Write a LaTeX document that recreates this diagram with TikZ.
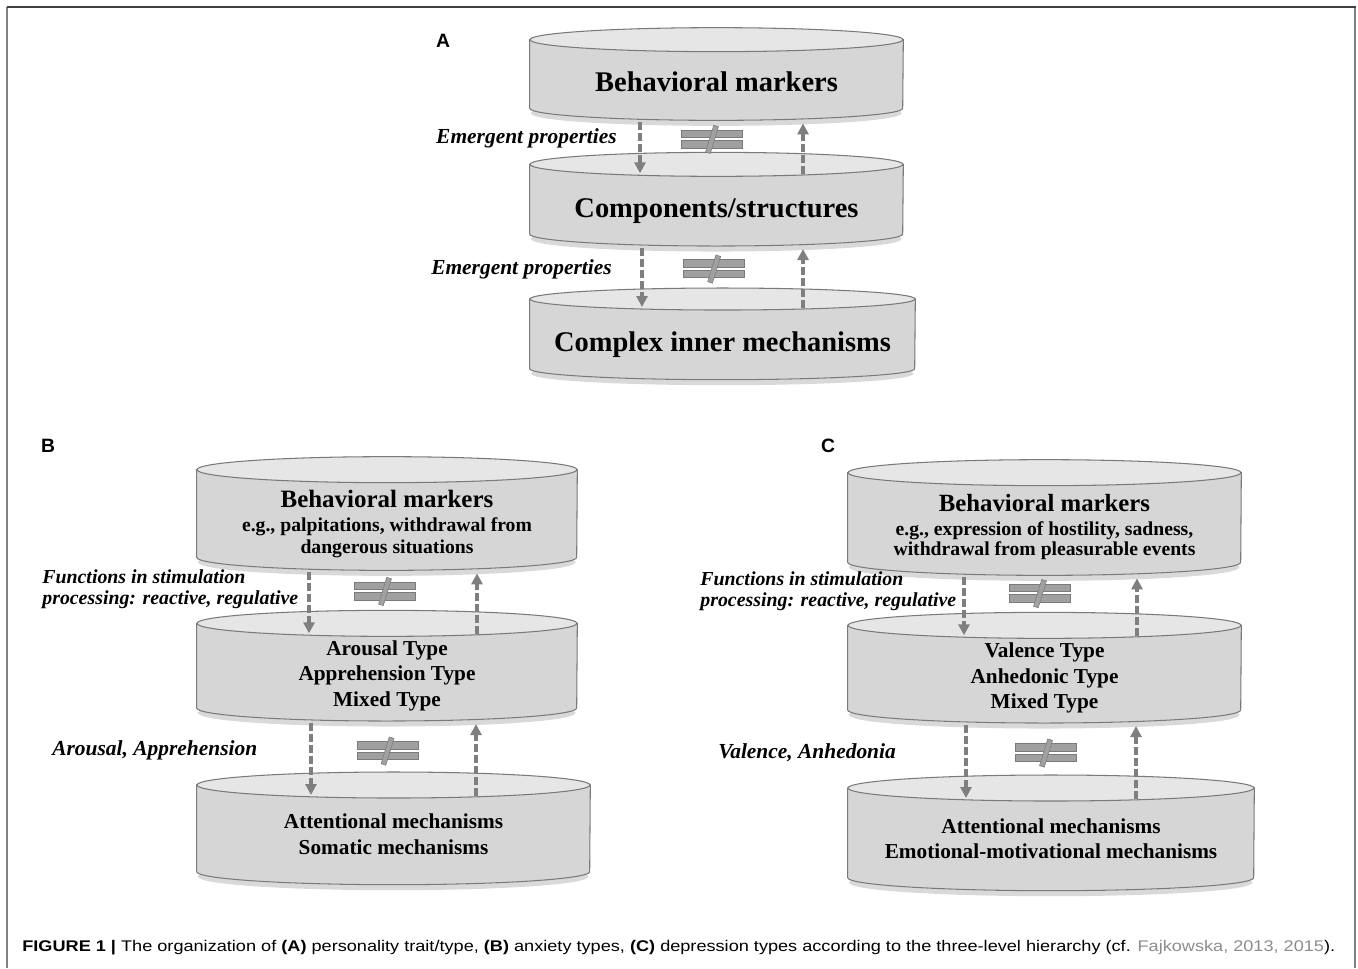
\documentclass[tikz,border=0pt]{standalone}
\usepackage{fontspec}
\setmainfont{Liberation Serif}
\setsansfont{Liberation Sans}
\usepackage{graphicx}
\usepackage{tikz}
\usetikzlibrary{positioning, arrows.meta, calc, backgrounds}
\definecolor{drumbody}{HTML}{D6D6D6}
\definecolor{drumlid}{HTML}{E6E6E6}
\definecolor{drumedge}{HTML}{7A7A7A}
\definecolor{linkgray}{HTML}{7F7F7F}
\definecolor{neqgray}{HTML}{A0A0A0}
\definecolor{citegray}{HTML}{8C8C8C}
\definecolor{framegray}{HTML}{808080}

% drum drawn behind the front face of a node: name, x radius, y radius
\newcommand{\drum}[3]{%
  \begin{pgfonlayer}{background}
    \draw[black, opacity=0.15, line width=0.1cm]
      ($(#1.south west)+(3,#3-3)$) arc[start angle=180, end angle=360,
        x radius=#2-3, y radius=#3];
    \filldraw[fill=drumbody, draw=drumedge, line width=0.6pt]
      ($(#1.north west)+(0,#3)$) -- ($(#1.south west)+(0,#3)$)
      arc[start angle=180, end angle=360, x radius=#2, y radius=#3]
      -- ($(#1.north east)+(0,#3)$) -- cycle;
    \filldraw[fill=drumlid, draw=drumedge, line width=0.6pt]
      ($(#1.north)+(0,#3)$) ellipse[x radius=#2, y radius=#3];
  \end{pgfonlayer}}

\begin{document}
\begin{tikzpicture}[x=0.02cm, y=0.02cm,
    every node/.style={inner sep=0pt},
    drumface/.style={rectangle, align=center, font=\bfseries},
    titleA/.style={font=\fontsize{16.2}{19}\selectfont\bfseries},
    typelist/.style={font=\fontsize{12.1}{14.5}\selectfont\bfseries},
    cue/.style={font=\fontsize{12.2}{14}\selectfont\bfseries\itshape},
    cuetwo/.style={font=\fontsize{11.3}{11.9}\selectfont\bfseries\itshape,
      align=left, anchor=west},
    panel/.style={font=\sffamily\bfseries\fontsize{11}{13}\selectfont},
    arr/.style={-{Triangle[length=0.22cm, width=0.22cm]}, line width=0.068cm,
      dash pattern=on 0.16cm off 0.06cm, color=linkgray,
      shorten <=0.04cm, shorten >=0.06cm},
    neqsign/.pic={
      \filldraw[fill=neqgray, draw=drumedge, line width=0.4pt]
        (-30.5,2) rectangle (30.5,9.5);
      \filldraw[fill=neqgray, draw=drumedge, line width=0.4pt]
        (-30.5,-8.5) rectangle (30.5,-1);
      \filldraw[fill=neqgray, draw=drumedge, line width=0.3pt, rotate=-17]
        (-2.5,-14) rectangle (2.5,14);
    }]

  \useasboundingbox (0,0) rectangle (1358,-968);

  % frame
  \draw[framegray, line width=1pt] (7,-968) -- (7,-7);
  \draw[framegray, line width=1pt] (1355,-968) -- (1355,-7);
  \draw[black!75, line width=1pt] (6.5,-7) -- (1355.5,-7);

  % panel A
  \node[panel] (labA) at (443,-41) {A};
  \node[drumface, titleA, minimum width=7.46cm, minimum height=1.36cm,
    text depth=5.5pt] (A1) at (716.5,-86) {Behavioral markers};
  \node[drumface, titleA, minimum width=7.46cm, minimum height=1.38cm,
    below=1.12cm of A1] (A2) {Components/structures};
  \node[drumface, titleA, minimum width=7.7cm, minimum height=1.38cm,
    below=1.28cm of A2, xshift=0.12cm] (A3) {Complex inner mechanisms};
  \drum{A1}{186.5}{12}
  \drum{A2}{186.5}{12}
  \drum{A3}{192.5}{11}

  \draw[arr] ($(A1.south)+(-76.5,0)$) -- ($(A1.south |- A2.north)+(-76.5,0)$);
  \draw[arr] ($(A1.south |- A2.north)+(86.5,0)$) -- ($(A1.south)+(86.5,0)$);
  \pic at ($(A1.south)!0.34!(A2.north)+(-4.5,0)$) {neqsign};
  \draw[arr] ($(A2.south)+(-74.5,0)$) -- ($(A2.south |- A3.north)+(-74.5,0)$);
  \draw[arr] ($(A2.south |- A3.north)+(86.5,0)$) -- ($(A2.south)+(86.5,0)$);
  \pic at ($(A2.south)!0.36!(A3.north)+(-4.5,0)$) {neqsign};

  \node[cue, anchor=east] (eA1) at (617,-138) {Emergent properties};
  \node[cue, anchor=east] (eA2) at (612,-269) {Emergent properties};

  % panel B
  \node[panel] (labB) at (48,-446) {B};
  \node[drumface, minimum width=7.6cm, minimum height=1.74cm,
    font=\fontsize{11.2}{12.6}\selectfont\bfseries, text depth=5.5pt]
    (B1) at (387,-526.5)
    {{\fontsize{14.2}{12.6}\selectfont Behavioral markers}\\[1.2pt]
     e.g., palpitations, withdrawal from\\ dangerous situations};
  \node[drumface, typelist, minimum width=7.6cm, minimum height=1.68cm,
    text depth=6pt, below=1.32cm of B1] (B2)
    {Arousal Type\\ Apprehension Type\\ Mixed Type};
  \node[drumface, typelist, minimum width=7.86cm, minimum height=1.72cm,
    text depth=8.5pt, below=1.54cm of B2, xshift=0.13cm] (B3)
    {Attentional mechanisms\\ Somatic mechanisms};
  \drum{B1}{190}{13}
  \drum{B2}{190}{13}
  \drum{B3}{196.5}{13}

  \draw[arr] ($(B1.south)+(-78,0)$) -- ($(B1.south |- B2.north)+(-78,0)$);
  \draw[arr] ($(B1.south |- B2.north)+(90,0)$) -- ($(B1.south)+(90,0)$);
  \pic at ($(B1.south)!0.32!(B2.north)+(-2,0)$) {neqsign};
  \draw[arr] ($(B2.south)+(-76,0)$) -- ($(B2.south |- B3.north)+(-76,0)$);
  \draw[arr] ($(B2.south |- B3.north)+(89,0)$) -- ($(B2.south)+(89,0)$);
  \pic at ($(B2.south)!0.39!(B3.north)+(-2,0)$) {neqsign};

  \node[cuetwo] (fB) at (42,-589)
    {Functions in stimulation\\ processing: reactive, regulative};
  \node[cue, anchor=west] (vB) at (52,-750) {Arousal, Apprehension};

  % panel C
  \node[panel] (labC) at (828,-446) {C};
  \node[drumface, minimum width=7.86cm, minimum height=1.78cm,
    font=\fontsize{11.2}{11.9}\selectfont\bfseries, text depth=6pt]
    (C1) at (1044.5,-530.5)
    {{\fontsize{14.1}{11.9}\selectfont Behavioral markers}\\[1.4pt]
     e.g., expression of hostility, sadness,\\
     withdrawal from pleasurable events};
  \node[drumface, typelist, minimum width=7.86cm, minimum height=1.68cm,
    text depth=5.5pt, below=1.26cm of C1] (C2)
    {Valence Type\\ Anhedonic Type\\ Mixed Type};
  \node[drumface, typelist, minimum width=8.12cm, minimum height=1.78cm,
    text depth=8pt, below=1.56cm of C2, xshift=0.13cm] (C3)
    {Attentional mechanisms\\ Emotional-motivational mechanisms};
  \drum{C1}{196.5}{13}
  \drum{C2}{196.5}{13}
  \drum{C3}{203}{13}

  \draw[arr] ($(C1.south)+(-80.5,0)$) -- ($(C1.south |- C2.north)+(-80.5,0)$);
  \draw[arr] ($(C1.south |- C2.north)+(92.5,0)$) -- ($(C1.south)+(92.5,0)$);
  \pic at ($(C1.south)!0.29!(C2.north)+(-4.5,0)$) {neqsign};
  \draw[arr] ($(C2.south)+(-78.5,0)$) -- ($(C2.south |- C3.north)+(-78.5,0)$);
  \draw[arr] ($(C2.south |- C3.north)+(91.5,0)$) -- ($(C2.south)+(91.5,0)$);
  \pic at ($(C2.south)!0.385!(C3.north)+(-1,0)$) {neqsign};

  \node[cuetwo] (fC) at (700,-591)
    {Functions in stimulation\\ processing: reactive, regulative};
  \node[cue, anchor=west] (vC) at (718,-753) {Valence, Anhedonia};

  % caption
  \node[anchor=west, font=\sffamily\fontsize{8.8}{10}\selectfont] (cap)
    at (22,-948) {\resizebox{26.26cm}{\height}{\textbf{FIGURE 1 |} The
    organization of \textbf{(A)} personality trait/type, \textbf{(B)} anxiety
    types, \textbf{(C)} depression types according to the three-level
    hierarchy (cf. \textcolor{citegray}{Fajkowska, 2013, 2015}).}};
\end{tikzpicture}
\end{document}
